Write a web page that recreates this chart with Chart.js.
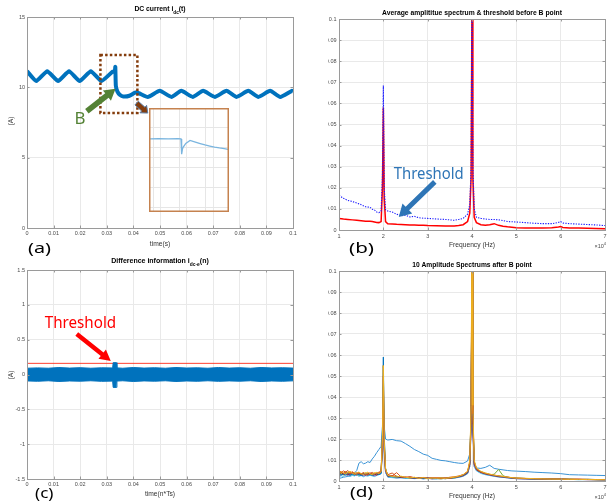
<!DOCTYPE html>
<html><head><meta charset="utf-8">
<script src="https://cdn.jsdelivr.net/npm/chart.js@4.4.0/dist/chart.umd.min.js"></script>
<style>
html,body{margin:0;padding:0;background:#fff;}
#wrap{position:relative;width:612px;height:501px;overflow:hidden;background:#fff;}
canvas{position:absolute;}
</style></head>
<body><div id="wrap">
<canvas id="ca" width="306" height="260" style="left:0;top:0;width:306px;height:260px"></canvas>
<canvas id="cinset" width="80" height="104" style="left:149px;top:108px;width:80px;height:104px"></canvas>
<canvas id="cb" width="284" height="260" style="left:328px;top:0;width:284px;height:260px"></canvas>
<canvas id="cc" width="306" height="251" style="left:0;top:250px;width:306px;height:251px"></canvas>
<canvas id="cd" width="284" height="251" style="left:328px;top:250px;width:284px;height:251px"></canvas>
</div>
<script>
// ---------------- DATA ----------------
// (a) DC current i_dc(t)
const aTime    = [0, 0.0035, 0.0076, 0.0117, 0.0158, 0.0198, 0.0240, 0.0280, 0.0321, 0.0330, 0.0332, 0.0334, 0.0340, 0.0350, 0.0362, 0.0385, 0.0411, 0.0454, 0.0499, 0.0543, 0.0580, 0.0623, 0.0662, 0.0706, 0.0750, 0.0788, 0.0832, 0.0870, 0.0914, 0.0952, 0.0996, 0.1];
const aCurrent = [11.15, 10.45, 11.15, 10.45, 11.15, 10.45, 11.15, 10.45, 11.1, 11.15, 11.45, 10.1, 9.7, 9.45, 9.35, 9.4, 9.65, 9.32, 9.75, 9.32, 9.75, 9.32, 9.75, 9.32, 9.75, 9.32, 9.75, 9.32, 9.75, 9.32, 9.75, 9.72];
const aTickX = [0, 0.01, 0.02, 0.03, 0.04, 0.05, 0.06, 0.07, 0.08, 0.09, 0.1];
const aTickXLabels = ['0', '0.01', '0.02', '0.03', '0.04', '0.05', '0.06', '0.07', '0.08', '0.09', '0.1'];
const aTickY = [0, 5, 10, 15];
const aTickYLabels = ['0', '5', '10', '15'];
// zoomed inset (relative units)
const insetX = [0.9, 12, 24, 36, 40, 40.8, 41.8, 42.8, 46, 51.3, 58, 64, 70, 76, 82, 88, 94, 99];
const insetY = [70.4, 70.6, 70.3, 70.5, 70.3, 55.6, 60.5, 62.4, 66, 68.8, 67.2, 65.8, 64.5, 63.4, 62.4, 61.6, 61, 60.3];
const insetGridX = [5.3, 37.7, 70.1];
const insetGridY = [3.9, 23.2, 42.5, 61.8, 81.1];

// (b) average amplitude spectrum & threshold
const bFreq      = [1.0, 1.1, 1.2, 1.3, 1.4, 1.5, 1.6, 1.7, 1.75, 1.8, 1.85, 1.9, 1.95, 1.98, 2.0, 2.02, 2.05, 2.1, 2.2, 2.3, 2.4, 2.5, 2.6, 2.7, 2.8, 2.9, 3.0, 3.2, 3.4, 3.6, 3.7, 3.8, 3.9, 3.95, 3.98, 4.0, 4.02, 4.05, 4.1, 4.2, 4.3, 4.4, 4.5, 4.6, 4.7, 4.8, 5.0, 5.2, 5.4, 5.6, 5.8, 5.95, 6.0, 6.05, 6.2, 6.4, 6.6, 6.8, 7.0];
const bThreshold = [0.0165, 0.0150, 0.0140, 0.0135, 0.0128, 0.0120, 0.0110, 0.0108, 0.0098, 0.0095, 0.0085, 0.0082, 0.0090, 0.025, 0.0685, 0.020, 0.0095, 0.0090, 0.0085, 0.0075, 0.0068, 0.0070, 0.0062, 0.0065, 0.0058, 0.0056, 0.0055, 0.0052, 0.0050, 0.0046, 0.0050, 0.0055, 0.0075, 0.012, 0.03, 0.12, 0.03, 0.010, 0.0060, 0.0055, 0.0052, 0.0050, 0.0050, 0.0048, 0.0045, 0.0040, 0.0038, 0.0035, 0.0032, 0.0030, 0.0030, 0.0036, 0.0040, 0.0033, 0.0030, 0.0028, 0.0026, 0.0024, 0.0021];
const bAverage   = [0.0055, 0.0052, 0.0050, 0.0048, 0.0046, 0.0044, 0.0042, 0.0041, 0.0040, 0.0038, 0.0036, 0.0035, 0.0040, 0.020, 0.058, 0.015, 0.0040, 0.0030, 0.0029, 0.0027, 0.0026, 0.0025, 0.0024, 0.0024, 0.0023, 0.0022, 0.0021, 0.0020, 0.0019, 0.0019, 0.0021, 0.0025, 0.0040, 0.008, 0.025, 0.11, 0.025, 0.006, 0.0035, 0.0025, 0.0022, 0.0025, 0.0030, 0.0022, 0.0018, 0.0015, 0.0011, 0.0010, 0.0010, 0.0010, 0.0011, 0.0014, 0.0016, 0.0012, 0.0010, 0.0009, 0.0008, 0.0007, 0.0006];
const fTickX = [1, 2, 3, 4, 5, 6, 7];
const fTickXLabels = ['1', '2', '3', '4', '5', '6', '7'];
const fTickY = [0, 0.01, 0.02, 0.03, 0.04, 0.05, 0.06, 0.07, 0.08, 0.09, 0.1];
const fTickYLabels = ['0', '0.01', '0.02', '0.03', '0.04', '0.05', '0.06', '0.07', '0.08', '0.09', '0.1'];

// (c) difference information envelope
const cTime  = [0, 0.004, 0.008, 0.012, 0.016, 0.02, 0.024, 0.028, 0.0322, 0.0324, 0.0336, 0.0338, 0.036, 0.04, 0.044, 0.048, 0.052, 0.056, 0.06, 0.064, 0.068, 0.072, 0.076, 0.08, 0.084, 0.088, 0.092, 0.096, 0.1];
const cUpper = [0.09, 0.095, 0.09, 0.1, 0.092, 0.098, 0.09, 0.096, 0.094, 0.17, 0.17, 0.095, 0.09, 0.1, 0.092, 0.097, 0.09, 0.1, 0.093, 0.096, 0.09, 0.1, 0.092, 0.097, 0.09, 0.1, 0.094, 0.097, 0.092];
const cLower = [-0.092, -0.097, -0.09, -0.1, -0.093, -0.096, -0.09, -0.098, -0.095, -0.185, -0.185, -0.094, -0.09, -0.1, -0.092, -0.096, -0.09, -0.1, -0.093, -0.097, -0.09, -0.098, -0.092, -0.096, -0.09, -0.1, -0.093, -0.097, -0.091];
const cThresholdTime = [0, 0.1];
const cThreshold = [0.16, 0.16];
const cTickY = [-1.5, -1, -0.5, 0, 0.5, 1, 1.5];
const cTickYLabels = ['-1.5', '-1', '-0.5', '0', '0.5', '1', '1.5'];

// (d) 10 amplitude spectra after B point
const dFreq = [1.0,1.05,1.1,1.15,1.2,1.25,1.3,1.35,1.4,1.45,1.5,1.55,1.6,1.65,1.7,1.75,1.8,1.85,1.9,1.95, 1.98,2.0,2.02,2.05, 2.1,2.2,2.3,2.4,2.5,2.6,2.7,2.8,2.9,3.0,3.1,3.2,3.3,3.4,3.5,3.6,3.7,3.8,3.9, 3.95,3.98,4.0,4.02,4.05, 4.1,4.2,4.3,4.4,4.5,4.6,4.7,4.8,4.9,5.0, 5.2,5.4,5.6,5.8,6.0,6.2,6.4,6.6,6.8,7.0];
const dSpec1 = [.0012,.0015,.0018,.0020,.0022,.0025,.0030,.0038,.0050,.0085,.0092,.0082,.0085,.0092,.0088,.0105,.0118,.0135,.0150,.0165, .026,.045,.026,.0200, .0195,.0198,.0192,.0190,.0178,.0165,.0150,.0140,.0128,.0122,.0108,.0103,.0098,.0096,.0092,.0088,.0085,.0084,.0095, .0130,.030,.11,.030,.0090, .0062,.0060,.0065,.0075,.0060,.0056,.0053,.0050,.0048,.0047, .0045,.0042,.0040,.0038,.0035,.0030,.0029,.0028,.0027,.0026];
const dSpec2 = [.0045,.0040,.0048,.0042,.0050,.0038,.0044,.0035,.0040,.0032,.0036,.0030,.0034,.0038,.0032,.0036,.0030,.0034,.0038,.0045, .020,.055,.018,.005, .0030,.0038,.0022,.0018,.0016,.0020,.0015,.0014,.0016,.0012,.0015,.0013,.0016,.0014,.0018,.0020,.0024,.0030,.0045, .008,.028,.105,.026,.008, .0055,.0042,.0035,.0030,.0026,.0022,.0020,.0018,.0016,.0014, .0012,.0011,.0010,.0009,.0010,.0009,.0008,.0008,.0007,.0007];
const dSpec3 = [.0030,.0035,.0028,.0040,.0033,.0045,.0036,.0042,.0030,.0038,.0028,.0035,.0040,.0032,.0029,.0034,.0040,.0036,.0031,.0042, .022,.055,.020,.006, .0026,.0020,.0024,.0016,.0018,.0014,.0017,.0012,.0015,.0014,.0011,.0013,.0015,.0012,.0016,.0019,.0022,.0028,.0042, .009,.035,.13,.035,.009, .0060,.0045,.0038,.0032,.0027,.0024,.0021,.0018,.0015,.0013, .0011,.0010,.0012,.0009,.0008,.0009,.0007,.0008,.0006,.0007];
const dSpec4 = [.0025,.0030,.0036,.0028,.0032,.0026,.0038,.0031,.0027,.0034,.0029,.0024,.0031,.0027,.0033,.0028,.0025,.0030,.0034,.0038, .015,.035,.014,.004, .0020,.0018,.0015,.0017,.0013,.0016,.0012,.0014,.0011,.0013,.0010,.0012,.0011,.0013,.0012,.0015,.0018,.0024,.0036, .007,.025,.11,.024,.007, .0050,.0040,.0032,.0028,.0023,.0020,.0018,.0015,.0013,.0011, .0010,.0009,.0008,.0009,.0008,.0007,.0008,.0006,.0007,.0006];
const dSpec5 = [.0040,.0034,.0030,.0037,.0042,.0033,.0028,.0036,.0031,.0026,.0033,.0038,.0029,.0035,.0027,.0031,.0036,.0029,.0033,.0040, .018,.045,.016,.005, .0024,.0019,.0017,.0021,.0015,.0013,.0016,.0012,.0014,.0011,.0013,.0012,.0010,.0013,.0015,.0014,.0019,.0026,.0040, .008,.030,.12,.030,.008, .0052,.0040,.0034,.0030,.0032,.0055,.0025,.0018,.0015,.0013, .0012,.0010,.0009,.0010,.0008,.0008,.0007,.0007,.0006,.0006];
const dSpec6 = [.0020,.0025,.0022,.0030,.0026,.0021,.0027,.0024,.0030,.0022,.0026,.0020,.0025,.0023,.0028,.0024,.0021,.0026,.0030,.0034, .014,.030,.012,.004, .0018,.0016,.0014,.0015,.0012,.0014,.0011,.0013,.0010,.0012,.0011,.0010,.0012,.0011,.0013,.0014,.0017,.0022,.0034, .007,.026,.11,.025,.007, .0048,.0036,.0030,.0026,.0022,.0019,.0017,.0015,.0013,.0011, .0010,.0009,.0008,.0008,.0007,.0008,.0006,.0007,.0006,.0005];
const dSpec7 = [.0035,.0041,.0032,.0038,.0028,.0036,.0041,.0030,.0035,.0040,.0031,.0037,.0027,.0033,.0039,.0030,.0034,.0028,.0035,.0041, .016,.040,.015,.005, .0022,.0026,.0019,.0016,.0019,.0015,.0013,.0016,.0012,.0015,.0012,.0014,.0013,.0011,.0014,.0017,.0020,.0025,.0038, .008,.028,.115,.027,.008, .0054,.0041,.0034,.0029,.0025,.0021,.0019,.0017,.0014,.0012, .0011,.0010,.0009,.0008,.0009,.0007,.0008,.0007,.0006,.0006];
const dSpec8 = [.0032,.0028,.0034,.0030,.0037,.0029,.0033,.0027,.0035,.0030,.0026,.0032,.0036,.0028,.0031,.0027,.0033,.0037,.0030,.0036, .024,.059,.022,.006, .0025,.0021,.0018,.0020,.0016,.0017,.0014,.0015,.0013,.0014,.0012,.0011,.0014,.0012,.0014,.0016,.0021,.0027,.0041, .009,.032,.12,.031,.009, .0058,.0044,.0036,.0031,.0027,.0023,.0020,.0017,.0015,.0013, .0012,.0010,.0010,.0009,.0009,.0008,.0007,.0008,.0007,.0006];
const dSpec9 = [.0048,.0043,.0037,.0045,.0039,.0034,.0041,.0036,.0032,.0039,.0034,.0040,.0033,.0029,.0036,.0041,.0033,.0038,.0042,.0047, .019,.050,.017,.005, .0028,.0024,.0040,.0019,.0017,.0020,.0016,.0014,.0017,.0013,.0015,.0014,.0012,.0015,.0013,.0017,.0022,.0029,.0044, .009,.033,.125,.032,.009, .0057,.0043,.0036,.0031,.0028,.0024,.0021,.0018,.0016,.0013, .0012,.0011,.0010,.0010,.0009,.0008,.0008,.0007,.0007,.0006];
const dSpec10 = [.0038,.0044,.0039,.0033,.0041,.0046,.0037,.0032,.0038,.0043,.0035,.0031,.0037,.0042,.0034,.0030,.0036,.0041,.0035,.0044, .021,.055,.019,.006, .0027,.0022,.0019,.0023,.0018,.0015,.0018,.0013,.0016,.0012,.0014,.0013,.0015,.0012,.0016,.0018,.0023,.0030,.0046, .010,.036,.14,.036,.010, .0062,.0046,.0038,.0033,.0028,.0025,.0022,.0019,.0016,.0014, .0013,.0011,.0010,.0009,.0009,.0008,.0008,.0007,.0007,.0006];
const dSeries = [dSpec1, dSpec2, dSpec3, dSpec4, dSpec5, dSpec6, dSpec7, dSpec8, dSpec9, dSpec10];
const dColors = ['#3a93d5', '#D95319', '#EDB120', '#7E2F8E', '#77AC30', '#4DBEEE', '#A2142F', '#0072BD', '#D95319', '#EDB120'];

// ---------------- STYLE / HELPERS ----------------
Chart.defaults.font.family = '"Liberation Sans", Arial, sans-serif';
Chart.defaults.animation = false;
Chart.defaults.events = [];
Chart.defaults.plugins.legend.display = false;
Chart.defaults.plugins.tooltip.enabled = false;
Chart.defaults.elements.point.radius = 0;
Chart.defaults.responsive = false;

const GRID = '#e9e9e9', BOX = '#9a9a9a', TICKTXT = '#4a4a4a', LABEL = '#333333';
const SANS = '"Liberation Sans", Arial, sans-serif';
const ANNO = '"Noto Sans", "Open Sans", sans-serif';

function makeScale(o) {
  return {
    type: 'linear', min: o.min, max: o.max,
    afterBuildTicks: s => { s.ticks = o.ticks.map(v => ({ value: v })); },
    afterFit: s => { if (o.isX) s.height = o.fit; else s.width = o.fit; },
    grid: { color: GRID, lineWidth: 1, drawTicks: false },
    border: { display: false },
    ticks: { autoSkip: false, maxRotation: 0, minRotation: 0, padding: o.padding, color: TICKTXT,
             font: { size: 5.5 }, callback: (v, i) => o.labels[i] }
  };
}
function pts(xs, ys) { return xs.map((x, i) => ({ x: x, y: ys[i] })); }

function boxAndTicks(chart) {
  const { ctx, chartArea: a, scales: { x, y } } = chart;
  ctx.save();
  ctx.strokeStyle = BOX; ctx.lineWidth = 1;
  ctx.strokeRect(a.left + 0.5, a.top + 0.5, a.right - a.left, a.bottom - a.top);
  const tl = 2.5;
  ctx.beginPath();
  x.ticks.forEach(t => {
    const px = Math.round(x.getPixelForValue(t.value)) + 0.5;
    ctx.moveTo(px, a.bottom); ctx.lineTo(px, a.bottom - tl);
    ctx.moveTo(px, a.top); ctx.lineTo(px, a.top + tl);
  });
  y.ticks.forEach(t => {
    const py = Math.round(y.getPixelForValue(t.value)) + 0.5;
    ctx.moveTo(a.left, py); ctx.lineTo(a.left + tl, py);
    ctx.moveTo(a.right, py); ctx.lineTo(a.right - tl, py);
  });
  ctx.stroke();
  ctx.restore();
}
function drawTitle(ctx, parts, cx, cy, size) {
  ctx.save();
  const main = 'bold ' + size + 'px ' + SANS, sub = 'bold ' + (size * 0.7).toFixed(2) + 'px ' + SANS;
  let w = 0;
  parts.forEach(p => { ctx.font = p[1] ? sub : main; w += ctx.measureText(p[0]).width; });
  let x = cx - w / 2;
  ctx.fillStyle = '#000'; ctx.textBaseline = 'middle'; ctx.textAlign = 'left';
  parts.forEach(p => {
    ctx.font = p[1] ? sub : main;
    ctx.fillText(p[0], x, p[1] ? cy + size * 0.5 : cy);
    x += ctx.measureText(p[0]).width;
  });
  ctx.restore();
}
function fitSize(ctx, text, weight, family, width) {
  ctx.save(); ctx.font = weight + ' 10px ' + family;
  const w = ctx.measureText(text).width; ctx.restore();
  return 10 * width / w;
}
function fitText(ctx, text, x, y, font, width, color) {
  ctx.save(); ctx.font = font;
  const w = ctx.measureText(text).width;
  ctx.translate(x, y); ctx.scale(width / w, 1);
  ctx.fillStyle = color; ctx.textBaseline = 'alphabetic'; ctx.textAlign = 'left';
  ctx.fillText(text, 0, 0);
  ctx.restore();
}
function plainText(ctx, text, x, y, size, color, align, rot) {
  ctx.save(); ctx.font = size + 'px ' + SANS; ctx.fillStyle = color;
  ctx.textAlign = align || 'center'; ctx.textBaseline = 'middle';
  ctx.translate(x, y); if (rot) ctx.rotate(rot);
  ctx.fillText(text, 0, 0); ctx.restore();
}
function times10(ctx, xRight, y) {
  ctx.save(); ctx.fillStyle = TICKTXT; ctx.textBaseline = 'middle'; ctx.textAlign = 'right';
  ctx.font = '4px ' + SANS; const w4 = ctx.measureText('4').width;
  ctx.fillText('4', xRight, y - 2.2);
  ctx.font = '5.5px ' + SANS; ctx.fillText('\u00d710', xRight - w4, y);
  ctx.restore();
}
function blockArrow(ctx, x1, y1, x2, y2, shaft, headW, headL, fill, stroke) {
  const dx = x2 - x1, dy = y2 - y1, L = Math.hypot(dx, dy), ux = dx / L, uy = dy / L, px = -uy, py = ux;
  const bx = x2 - ux * headL, by = y2 - uy * headL;
  const p = [[x1 + px * shaft / 2, y1 + py * shaft / 2], [bx + px * shaft / 2, by + py * shaft / 2],
             [bx + px * headW / 2, by + py * headW / 2], [x2, y2], [bx - px * headW / 2, by - py * headW / 2],
             [bx - px * shaft / 2, by - py * shaft / 2], [x1 - px * shaft / 2, y1 - py * shaft / 2]];
  ctx.save(); ctx.beginPath();
  p.forEach((q, i) => i ? ctx.lineTo(q[0], q[1]) : ctx.moveTo(q[0], q[1]));
  ctx.closePath(); ctx.fillStyle = fill; ctx.fill();
  if (stroke) { ctx.strokeStyle = stroke; ctx.lineWidth = 1; ctx.stroke(); }
  ctx.restore();
}

// ---------------- (a) ----------------
new Chart(document.getElementById('ca'), {
  type: 'line',
  data: { datasets: [{ data: pts(aTime, aCurrent), borderColor: '#0072BD', borderWidth: 4, tension: 0.15, fill: false }] },
  options: {
    layout: { padding: { left: 0, right: 13, top: 17, bottom: 0 } },
    scales: {
      x: makeScale({ min: 0, max: 0.1, ticks: aTickX, labels: aTickXLabels, isX: true, fit: 32, padding: 2.5 }),
      y: makeScale({ min: 0, max: 15, ticks: aTickY, labels: aTickYLabels, isX: false, fit: 27, padding: 2 })
    }
  },
  plugins: [{ id: 'decoA', afterDraw(chart) {
    const { ctx, scales: { x, y }, chartArea: a } = chart;
    boxAndTicks(chart);
    drawTitle(ctx, [['DC current i', 0], ['dc', 1], ['(t)', 0]], (a.left + a.right) / 2, 9, 6.8);
    plainText(ctx, 'time(s)', (a.left + a.right) / 2, 243.7, 6.7, LABEL);
    plainText(ctx, '(A)', 11.3, 121, 6.7, LABEL, 'center', -Math.PI / 2);
    // dotted brown box around point B
    ctx.save(); ctx.strokeStyle = '#843C0C'; ctx.lineWidth = 2.5; ctx.setLineDash([2.5, 2.2]);
    const rx1 = x.getPixelForValue(0.0276), rx2 = x.getPixelForValue(0.0415);
    const ry1 = y.getPixelForValue(12.3), ry2 = y.getPixelForValue(8.18);
    ctx.strokeRect(rx1, ry1, rx2 - rx1, ry2 - ry1); ctx.restore();
    // green arrow and B
    blockArrow(ctx, x.getPixelForValue(0.0225), y.getPixelForValue(8.3), x.getPixelForValue(0.0333), y.getPixelForValue(9.9), 5.5, 13, 11, '#548235');
    fitText(ctx, 'B', x.getPixelForValue(0.0179), y.getPixelForValue(7.37), '17px ' + ANNO, 11, '#548235');
    // small brown arrow to the inset
    blockArrow(ctx, x.getPixelForValue(0.0412), y.getPixelForValue(8.88), x.getPixelForValue(0.0454), y.getPixelForValue(8.17), 5, 10, 6, '#843C0C', '#5b7ea6');
    fitText(ctx, '(a)', 28, 253, '14px ' + ANNO, 23, '#000');
  } }]
});

// inset (zoom of point B)
new Chart(document.getElementById('cinset'), {
  type: 'line',
  data: { datasets: [{ data: pts(insetX, insetY), borderColor: '#7ab5df', borderWidth: 1.3, tension: 0, fill: false }] },
  options: {
    layout: { padding: 0 },
    scales: {
      x: { type: 'linear', min: 0, max: 100, afterBuildTicks: s => { s.ticks = insetGridX.map(v => ({ value: v })); },
           afterFit: s => { s.height = 0; }, ticks: { display: false }, grid: { color: '#e6e6e6', drawTicks: false }, border: { display: false } },
      y: { type: 'linear', min: 0, max: 100, afterBuildTicks: s => { s.ticks = insetGridY.map(v => ({ value: v })); },
           afterFit: s => { s.width = 0; }, ticks: { display: false }, grid: { color: '#e6e6e6', drawTicks: false }, border: { display: false } }
    }
  },
  plugins: [{ id: 'insetBox', afterDraw(chart) {
    const { ctx, chartArea: a } = chart;
    ctx.save(); ctx.strokeStyle = '#C5824F'; ctx.lineWidth = 1.5;
    ctx.strokeRect(a.left + 0.75, a.top + 0.75, a.right - a.left - 1.5, a.bottom - a.top - 1.5); ctx.restore();
  } }]
});

// ---------------- (b) ----------------
new Chart(document.getElementById('cb'), {
  type: 'line',
  data: { datasets: [
    { data: pts(bFreq, bThreshold), borderColor: '#1a1aff', borderWidth: 1.1, borderDash: [1.3, 1.3], tension: 0, fill: false, order: 0 },
    { data: pts(bFreq, bAverage), borderColor: '#ff0000', borderWidth: 1.5, tension: 0, fill: false, order: 1 }
  ] },
  options: {
    layout: { padding: { left: 0, right: 7, top: 19, bottom: 0 } },
    scales: {
      x: makeScale({ min: 1, max: 7, ticks: fTickX, labels: fTickXLabels, isX: true, fit: 30, padding: 3 }),
      y: makeScale({ min: 0, max: 0.1, ticks: fTickY, labels: fTickYLabels, isX: false, fit: 11, padding: 2.5 })
    }
  },
  plugins: [{ id: 'decoB', afterDraw(chart) {
    const { ctx, scales: { x, y }, chartArea: a } = chart;
    boxAndTicks(chart);
    const t = 'Average amplititue spectrum & threshold before B point';
    drawTitle(ctx, [[t, 0]], (a.left + a.right) / 2, 13.5, fitSize(ctx, t, 'bold', SANS, 180));
    plainText(ctx, 'Frequency (Hz)', (a.left + a.right) / 2, 245.3, 6.7, LABEL);
    times10(ctx, 278, 246.5);
    blockArrow(ctx, x.getPixelForValue(3.161), y.getPixelForValue(0.0228), x.getPixelForValue(2.348), y.getPixelForValue(0.0062), 5, 14, 12, '#2E75B6');
    fitText(ctx, 'Threshold', x.getPixelForValue(2.235), y.getPixelForValue(0.0242), '17px ' + ANNO, 70, '#2E75B6');
    fitText(ctx, '(b)', 21, 252.5, '14px ' + ANNO, 25, '#000');
  } }]
});

// ---------------- (c) ----------------
new Chart(document.getElementById('cc'), {
  type: 'line',
  data: { datasets: [
    { data: pts(cTime, cUpper), borderColor: '#0072BD', backgroundColor: '#0072BD', borderWidth: 1, tension: 0, fill: '+1', order: 1 },
    { data: pts(cTime, cLower), borderColor: '#0072BD', borderWidth: 1, tension: 0, fill: false, order: 2 },
    { data: pts(cThresholdTime, cThreshold), borderColor: '#ff2a1a', borderWidth: 0.9, tension: 0, fill: false, order: 3 }
  ] },
  options: {
    layout: { padding: { left: 0, right: 13, top: 20, bottom: 0 } },
    scales: {
      x: makeScale({ min: 0, max: 0.1, ticks: aTickX, labels: aTickXLabels, isX: true, fit: 22, padding: 2.5 }),
      y: makeScale({ min: -1.5, max: 1.5, ticks: cTickY, labels: cTickYLabels, isX: false, fit: 27, padding: 2 })
    }
  },
  plugins: [{ id: 'decoC', afterDraw(chart) {
    const { ctx, scales: { x, y }, chartArea: a } = chart;
    boxAndTicks(chart);
    drawTitle(ctx, [['Difference information i', 0], ['dc-e', 1], ['(n)', 0]], (a.left + a.right) / 2, 10.7, 7);
    plainText(ctx, 'time(n*Ts)', (a.left + a.right) / 2, 244.5, 6.7, LABEL);
    plainText(ctx, '(A)', 11.3, 125, 6.7, LABEL, 'center', -Math.PI / 2);
    blockArrow(ctx, x.getPixelForValue(0.0187), y.getPixelForValue(0.581), x.getPixelForValue(0.0315), y.getPixelForValue(0.194), 4.5, 12, 11, '#ff0000');
    fitText(ctx, 'Threshold', x.getPixelForValue(0.00665), y.getPixelForValue(0.663), '17px ' + ANNO, 71.5, '#ff0000');
    fitText(ctx, '(c)', 35, 248, '14px ' + ANNO, 18.5, '#000');
  } }]
});

// ---------------- (d) ----------------
new Chart(document.getElementById('cd'), {
  type: 'line',
  data: { datasets: dSeries.map((s, k) => ({ data: pts(dFreq, s), borderColor: dColors[k], borderWidth: 1, tension: 0, fill: false, order: 9 - k })) },
  options: {
    layout: { padding: { left: 0, right: 7, top: 21, bottom: 0 } },
    scales: {
      x: makeScale({ min: 1, max: 7, ticks: fTickX, labels: fTickXLabels, isX: true, fit: 20, padding: 3 }),
      y: makeScale({ min: 0, max: 0.1, ticks: fTickY, labels: fTickYLabels, isX: false, fit: 11, padding: 2.5 })
    }
  },
  plugins: [{ id: 'decoD', afterDraw(chart) {
    const { ctx, chartArea: a } = chart;
    boxAndTicks(chart);
    const t = '10 Amplitude Spectrums after B point';
    drawTitle(ctx, [[t, 0]], (a.left + a.right) / 2, 14.7, fitSize(ctx, t, 'bold', SANS, 120));
    plainText(ctx, 'Frequency (Hz)', (a.left + a.right) / 2, 246.3, 6.7, LABEL);
    times10(ctx, 278, 247.3);
    fitText(ctx, '(d)', 22, 247, '14px ' + ANNO, 23, '#000');
  } }]
});
</script>
</body></html>
